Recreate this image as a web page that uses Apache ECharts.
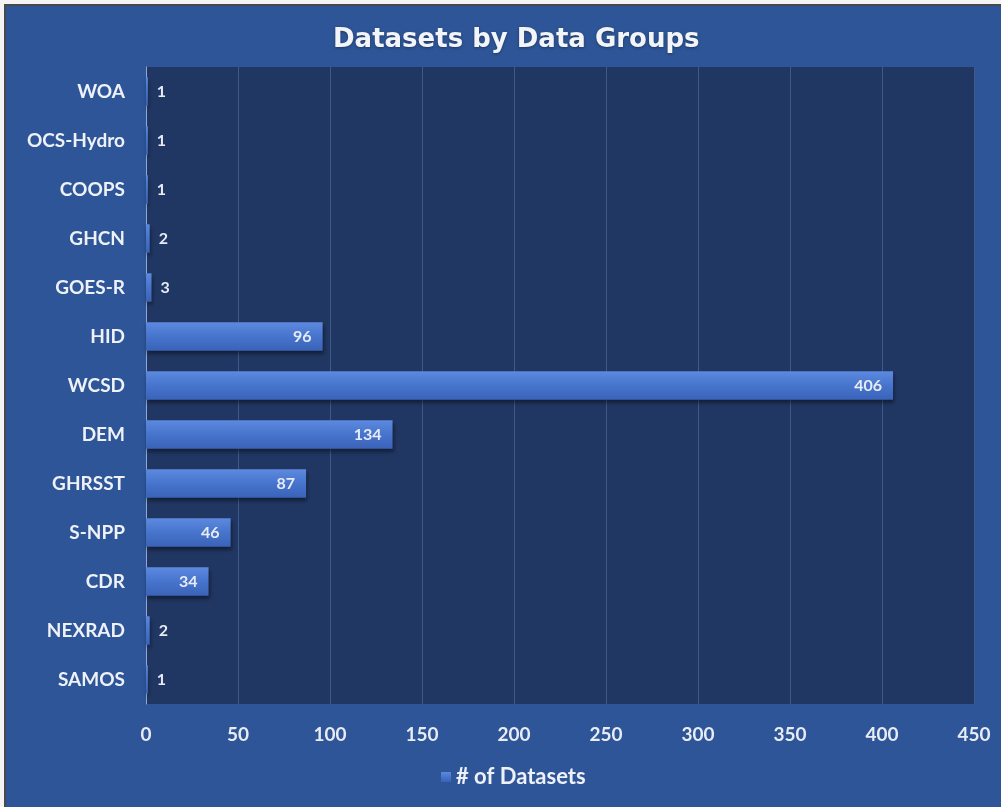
<!DOCTYPE html>
<html>
<head>
<meta charset="utf-8">
<script src="https://cdn.jsdelivr.net/npm/echarts@6/dist/echarts.min.js"></script>
<style>
html,body{margin:0;padding:0;background:#f4f4f4;width:1001px;height:807px;overflow:hidden;}
#c{position:absolute;left:4px;top:4px;width:997px;height:803px;border-left:2px solid #4a4a4a;border-top:2px solid #4a4a4a;box-sizing:border-box;background:#2d5597;}
</style>
</head>
<body>
<div id="c"></div>
<script>
const categories = ["WOA","OCS-Hydro","COOPS","GHCN","GOES-R","HID","WCSD","DEM","GHRSST","S-NPP","CDR","NEXRAD","SAMOS"];
const datasetCounts = [1,1,1,2,3,96,406,134,87,46,34,2,1];
const xTicks = [0,50,100,150,200,250,300,350,400,450];

const chart = echarts.init(document.getElementById('c'), null, {renderer:'canvas'});
const font = 'Lato, "Open Sans", "Noto Sans", sans-serif';

const barData = datasetCounts.map(v => ({
  value: v,
  label: v >= 20
    ? {position:'insideRight', distance: 11}
    : {position:'right', distance: 9}
}));

chart.setOption({
  backgroundColor: '#2d5597',
  title: {
    text: 'Datasets by Data Groups',
    left: 322, top: 16,
    textStyle: {color:'#f2f4f8', fontSize:26, fontWeight:'bold', fontFamily:'"DejaVu Sans", sans-serif',
      textShadowColor:'rgba(0,0,0,0.35)', textShadowBlur:3, textShadowOffsetY:1}
  },
  legend: {
    bottom: 14, left: 430,
    itemWidth: 10, itemHeight: 10, icon: 'rect', itemGap: 6,
    textStyle: {color:'#eef1f7', fontSize:22, fontWeight:'bold', fontFamily:font},
    data: ['# of Datasets']
  },
  grid: {
    left: 140, top: 61, right: 27, bottom: 103,
    show: true, backgroundColor: '#213763', borderWidth: 0
  },
  xAxis: {
    type: 'value', min: xTicks[0], max: xTicks[xTicks.length-1], interval: 50,
    axisLine: {show:false},
    axisTick: {show:false},
    splitLine: {show:true, lineStyle:{color:'#3d5a8c', width:1}},
    axisLabel: {color:'#e8ecf4', fontSize:19, fontWeight:'bold', fontFamily:font, margin:21}
  },
  yAxis: {
    type: 'category', data: categories, inverse: true,
    axisLine: {show:true, lineStyle:{color:'#8fa8d6', width:1}},
    axisTick: {show:false},
    axisLabel: {color:'#eef1f7', fontSize:19, fontWeight:'bold', fontFamily:font, margin:21}
  },
  series: [{
    name: '# of Datasets',
    type: 'bar',
    data: barData,
    barWidth: '58%',
    itemStyle: {
      color: new echarts.graphic.LinearGradient(0,0,0,1,[
        {offset:0, color:'#5d8ae0'},
        {offset:0.5, color:'#4774cc'},
        {offset:1, color:'#3a63b8'}
      ]),
      shadowColor: 'rgba(0,0,0,0.45)', shadowBlur: 4, shadowOffsetY: 3, shadowOffsetX: 1
    },
    label: {
      show: true, color:'#e6ebf5', fontSize:16, fontWeight:'bold', fontFamily:font
    }
  }]
});
</script>
</body>
</html>
